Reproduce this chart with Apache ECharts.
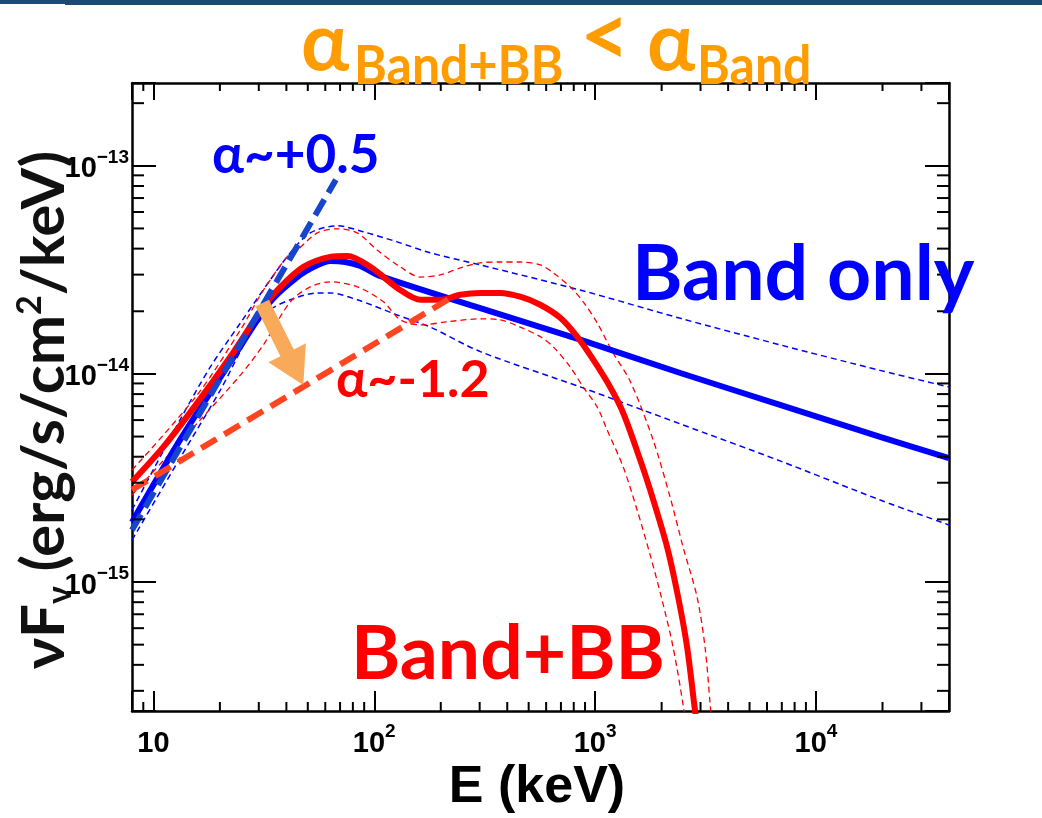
<!DOCTYPE html>
<html><head><meta charset="utf-8">
<script src="https://cdn.jsdelivr.net/npm/echarts@6/dist/echarts.min.js"></script>
<style>html,body{margin:0;padding:0;background:#fff}#c{width:1042px;height:818px}</style>
</head><body><div id="c"></div>
<script>
// ---- values: E in keV, νFν in erg/s/cm²/keV ----
const bandE   = [8, 13.2, 22.3, 33.8, 44.8, 54.1, 63.2, 73.9, 86.5, 106, 302, 855, 2430, 6870, 19500, 40000];
const bandF   = [1.94e-15, 4.82e-15, 1.14e-14, 2.22e-14, 2.92e-14, 3.30e-14, 3.49e-14, 3.45e-14, 3.30e-14, 2.96e-14, 2.07e-14, 1.46e-14, 1.01e-14, 7.10e-15, 4.98e-15, 3.94e-15];
const bandHiE = [8, 13.2, 18.1, 24.8, 33.8, 41.7, 51.3, 68, 89.2, 127, 179, 302, 855, 2430, 6870, 19500, 40000];
const bandHiF = [2.22e-15, 6.01e-15, 1.08e-14, 1.76e-14, 2.83e-14, 3.82e-14, 4.76e-14, 5.15e-14, 4.82e-14, 4.31e-14, 3.82e-14, 3.34e-14, 2.53e-14, 1.85e-14, 1.38e-14, 1.04e-14, 8.65e-15];
const bandLoE = [8, 13.2, 20.1, 27.5, 33.8, 41.7, 55.2, 63.2, 83.8, 127, 179, 302, 855, 2430, 6870, 19500, 40000];
const bandLoF = [1.59e-15, 3.94e-15, 8.37e-15, 1.57e-14, 2.03e-14, 2.27e-14, 2.45e-14, 2.45e-14, 2.27e-14, 1.92e-14, 1.68e-14, 1.28e-14, 8.66e-15, 5.75e-15, 3.82e-15, 2.48e-15, 1.88e-15];
const bbE   = [8, 11.1, 15.8, 22.3, 31.5, 37.6, 47.8, 63.2, 75.5, 95.9, 131, 162, 199, 245, 302, 371, 458, 564, 695, 829, 980, 1169, 1340, 1600, 1774, 2118, 2375, 2609, 2834, 3000];
const bbF   = [3.03e-15, 4.46e-15, 7.26e-15, 1.21e-14, 2.10e-14, 2.62e-14, 3.27e-14, 3.65e-14, 3.69e-14, 3.27e-14, 2.53e-14, 2.27e-14, 2.27e-14, 2.40e-14, 2.45e-14, 2.45e-14, 2.35e-14, 2.15e-14, 1.86e-14, 1.51e-14, 1.17e-14, 8.65e-15, 6.49e-15, 3.86e-15, 2.77e-15, 1.47e-15, 8.47e-16, 4.86e-16, 2.40e-16, 1.56e-16];
const bbHiE = [8, 15.8, 24.8, 31.5, 40.3, 44.8, 55.2, 68, 83.8, 103, 131, 162, 199, 245, 302, 371, 458, 564, 646, 771, 883, 1021, 1206, 1440, 1830, 2184, 2502, 2894, 3145, 3313, 3420];
const bbHiF = [3.45e-15, 7.93e-15, 1.63e-14, 2.53e-14, 3.65e-14, 3.94e-14, 4.76e-14, 4.98e-14, 4.76e-14, 3.94e-14, 3.27e-14, 2.92e-14, 2.99e-14, 3.23e-14, 3.42e-14, 3.45e-14, 3.45e-14, 3.34e-14, 3.06e-14, 2.62e-14, 2.22e-14, 1.76e-14, 1.26e-14, 9.24e-15, 4.82e-15, 2.56e-15, 1.47e-15, 8.47e-16, 4.86e-16, 2.62e-16, 1.74e-16];
const bbLoE = [8, 16.3, 24.8, 31.5, 41.7, 51.3, 63.2, 83.8, 110, 131, 162, 214, 302, 371, 458, 564, 646, 771, 883, 1021, 1133, 1340, 1549, 1774, 2010, 2253, 2502, 2610];
const bbLoF = [2.62e-15, 6.01e-15, 9.89e-15, 1.38e-14, 2.22e-14, 2.62e-14, 2.77e-14, 2.62e-14, 2.22e-14, 1.82e-14, 1.72e-14, 1.78e-14, 1.84e-14, 1.82e-14, 1.68e-14, 1.51e-14, 1.35e-14, 1.08e-14, 8.65e-15, 6.94e-15, 5.38e-15, 3.57e-15, 2.22e-15, 1.35e-15, 8.19e-16, 4.86e-16, 2.56e-16, 1.74e-16];
const slopeBandE = [8, 67];
const slopeBandF = [1.78e-15, 8.57e-14];
const slopeBBE   = [8, 225];
const slopeBBF   = [2.77e-15, 2.34e-14];
const arrowE = [31.1, 47.7];
const arrowF = [2.19e-14, 8.85e-15];
// axis ranges and minor ticks
const xRange = [8, 40000];
const yRange = [2.4e-16, 2.5e-13];
const xMinorTicks = [9, 20, 30, 40, 50, 60, 70, 80, 90, 200, 300, 400, 500, 600, 700, 800, 900, 2000, 3000, 4000, 5000, 6000, 7000, 8000, 9000, 20000, 30000];
const yMinorTicks = [3e-16, 4e-16, 5e-16, 6e-16, 7e-16, 8e-16, 9e-16, 2e-15, 3e-15, 4e-15, 5e-15, 6e-15, 7e-15, 8e-15, 9e-15, 2e-14, 3e-14, 4e-14, 5e-14, 6e-14, 7e-14, 8e-14, 9e-14, 2e-13];

const zip = (a, b) => a.map((v, i) => [v, b[i]]);
const SANS = 'Lato, "Noto Sans", "DejaVu Sans", sans-serif';
const ARIAL = '"Liberation Sans", Arial, sans-serif';
const BLUE = '#0000ff', RED = '#ff0000', ORANGE = '#ff9c00';

function powLabel(v) {
  const e = Math.round(Math.log10(v));
  if (Math.abs(v / Math.pow(10, e) - 1) > 1e-6) return '';
  if (e === 1) return '{b|10}';
  return '{b|10}{e|' + String(e).replace('-', '\u2212') + '}';
}
const labelRich = {
  b: { fontSize: 29, fontWeight: 'bold', fontFamily: ARIAL, color: '#000', lineHeight: 36, verticalAlign: 'bottom' },
  e: { fontSize: 19, fontWeight: 'bold', fontFamily: ARIAL, color: '#000', lineHeight: 19, verticalAlign: 'top' }
};
const axLine = { show: true, lineStyle: { color: '#000', width: 2.5 } };

function line(E, F, color, width, type, z) {
  return { type: 'line', data: zip(E, F), showSymbol: false, smooth: 0.3, z: z,
    lineStyle: { color: color, width: width, type: type, cap: 'butt' }, silent: true, animation: false };
}

const chart = echarts.init(document.getElementById('c'), null, { renderer: 'canvas' });
chart.setOption({
  animation: false,
  backgroundColor: '#fff',
  grid: { left: 132, right: 93, top: 83, bottom: 107, containLabel: false },
  xAxis: [
    { type: 'log', position: 'bottom', min: xRange[0], max: xRange[1], axisLine: axLine,
      axisTick: { inside: true, length: 20, lineStyle: { color: '#000', width: 2 } },
      splitLine: { show: false }, minorTick: { show: false },
      axisLabel: { margin: 11, formatter: v => powLabel(v), rich: labelRich } },
    { type: 'log', position: 'top', min: xRange[0], max: xRange[1], axisLine: axLine,
      axisTick: { inside: true, length: 17, lineStyle: { color: '#000', width: 2 } },
      splitLine: { show: false }, axisLabel: { show: false } }
  ],
  yAxis: [
    { type: 'log', position: 'left', min: yRange[0], max: yRange[1], axisLine: axLine,
      axisTick: { inside: true, length: 24, lineStyle: { color: '#000', width: 2 } },
      splitLine: { show: false },
      axisLabel: { margin: 3, formatter: v => powLabel(v), rich: labelRich } },
    { type: 'log', position: 'right', min: yRange[0], max: yRange[1], axisLine: axLine,
      axisTick: { inside: true, length: 24, lineStyle: { color: '#000', width: 2 } },
      splitLine: { show: false }, axisLabel: { show: false } }
  ],
  series: [
    line(bandHiE, bandHiF, BLUE, 1.5, [6, 4], 2),
    line(bandLoE, bandLoF, BLUE, 1.5, [6, 4], 2),
    line(bbHiE, bbHiF, RED, 1.3, [6, 4], 2),
    line(bbLoE, bbLoF, RED, 1.3, [6, 4], 2),
    line(bandE, bandF, BLUE, 6, 'solid', 3),
    line(bbE, bbF, RED, 6, 'solid', 4),
    line(slopeBandE, slopeBandF, '#1745cc', 6, [18, 8], 5),
    line(slopeBBE, slopeBBF, '#ff4422', 6, [18, 9], 5),
    { type: 'custom', silent: true, z: 6, clip: false,
      data: [[arrowE[0], arrowF[0], arrowE[1], arrowF[1]]],
      encode: { x: [0, 2], y: [1, 3] },
      renderItem: (params, api) => {
        const p0 = api.coord([api.value(0), api.value(1)]);
        const p1 = api.coord([api.value(2), api.value(3)]);
        const dx = p1[0] - p0[0], dy = p1[1] - p0[1], L = Math.hypot(dx, dy);
        const ux = dx / L, uy = dy / L, nx = -uy, ny = ux;
        const hl = 36, hw = 21, sw = 7.5;
        const bx = p1[0] - ux * hl, by = p1[1] - uy * hl;
        return { type: 'polygon', shape: { points: [
          [p0[0] + nx * sw, p0[1] + ny * sw], [bx + nx * sw, by + ny * sw], [bx + nx * hw, by + ny * hw],
          [p1[0], p1[1]], [bx - nx * hw, by - ny * hw], [bx - nx * sw, by - ny * sw], [p0[0] - nx * sw, p0[1] - ny * sw]
        ] }, style: { fill: '#f8a95a' } };
      } },
    { type: 'custom', silent: true, z: 7, clip: false,
      data: xMinorTicks.map(v => [v, 1e-14]),
      renderItem: (params, api) => {
        const cs = params.coordSys;
        const x = api.coord([api.value(0), api.value(1)])[0];
        const b = cs.y + cs.height;
        return { type: 'group', children: [
          { type: 'line', shape: { x1: x, y1: b, x2: x, y2: b - 9 }, style: { stroke: '#000', lineWidth: 2 } },
          { type: 'line', shape: { x1: x, y1: cs.y, x2: x, y2: cs.y + 8 }, style: { stroke: '#000', lineWidth: 2 } }
        ] };
      } },
    { type: 'custom', silent: true, z: 7, clip: false,
      data: yMinorTicks.map(v => [100, v]),
      renderItem: (params, api) => {
        const cs = params.coordSys;
        const y = api.coord([api.value(0), api.value(1)])[1];
        const r = cs.x + cs.width;
        return { type: 'group', children: [
          { type: 'line', shape: { x1: cs.x, y1: y, x2: cs.x + 12, y2: y }, style: { stroke: '#000', lineWidth: 2 } },
          { type: 'line', shape: { x1: r, y1: y, x2: r - 12, y2: y }, style: { stroke: '#000', lineWidth: 2 } }
        ] };
      } }
  ],
  graphic: [
    { type: 'rect', shape: { x: 0, y: 0, width: 66, height: 4 }, style: { fill: '#1c4a72' } },
    { type: 'rect', shape: { x: 65, y: 0, width: 977, height: 5 }, style: { fill: '#1c4a72' } },
    // title
    { type: 'text', x: 301, y: 44, z: 10, style: { text: 'α', fontSize: 80, fontWeight: 'bold', fontFamily: SANS, fill: ORANGE, textAlign: 'left', textVerticalAlign: 'middle' } },
    { type: 'text', x: 354, y: 67, z: 10, scaleY: 1.08, style: { text: 'Band+BB', fontSize: 50, fontWeight: 'bold', fontFamily: SANS, fill: ORANGE, textAlign: 'left', textVerticalAlign: 'middle' } },
    { type: 'text', x: 580, y: 38, z: 10, style: { text: '<', fontSize: 86, fontWeight: 'bold', fontFamily: SANS, fill: ORANGE, textAlign: 'left', textVerticalAlign: 'middle' } },
    { type: 'text', x: 647, y: 44, z: 10, style: { text: 'α', fontSize: 80, fontWeight: 'bold', fontFamily: SANS, fill: ORANGE, textAlign: 'left', textVerticalAlign: 'middle' } },
    { type: 'text', x: 697, y: 67, z: 10, scaleY: 1.08, style: { text: 'Band', fontSize: 50, fontWeight: 'bold', fontFamily: SANS, fill: ORANGE, textAlign: 'left', textVerticalAlign: 'middle' } },
    // annotations
    { type: 'text', x: 212, y: 156, z: 10, style: { text: 'α~+0.5', fontSize: 53, fontWeight: 'bold', fontFamily: SANS, fill: BLUE, textAlign: 'left', textVerticalAlign: 'middle' } },
    { type: 'text', x: 336, y: 380, z: 10, style: { text: 'α~-1.2', fontSize: 52, fontWeight: 'bold', fontFamily: SANS, fill: RED, textAlign: 'left', textVerticalAlign: 'middle' } },
    { type: 'text', x: 632, y: 275, z: 10, style: { text: 'Band only', fontSize: 77, fontWeight: 'bold', fontFamily: SANS, fill: BLUE, textAlign: 'left', textVerticalAlign: 'middle' } },
    { type: 'text', x: 351, y: 655, z: 10, style: { text: 'Band+BB', fontSize: 75, fontWeight: 'bold', fontFamily: SANS, fill: RED, textAlign: 'left', textVerticalAlign: 'middle' } },
    // axis titles
    { type: 'text', x: 537, y: 788, z: 10, style: { text: 'E (keV)', fontSize: 52, fontWeight: 'bold', fontFamily: ARIAL, fill: '#000', textAlign: 'center', textVerticalAlign: 'middle' } },
    { type: 'text', x: 45, y: 410, rotation: Math.PI / 2, z: 10, style: {
        text: '{n|νF}{s|ν}{n| (erg/s/cm}{p|2}{n|/keV)}', textAlign: 'center', textVerticalAlign: 'middle',
        rich: {
          n: { fontSize: 60, fontWeight: 'bold', fontFamily: SANS, fill: '#111', lineHeight: 64, verticalAlign: 'middle' },
          s: { fontSize: 34, fontWeight: 'bold', fontFamily: SANS, fill: '#111', lineHeight: 34, verticalAlign: 'bottom' },
          p: { fontSize: 34, fontWeight: 'bold', fontFamily: SANS, fill: '#111', lineHeight: 34, verticalAlign: 'top' }
        } } }
  ]
});
</script>
</body></html>
